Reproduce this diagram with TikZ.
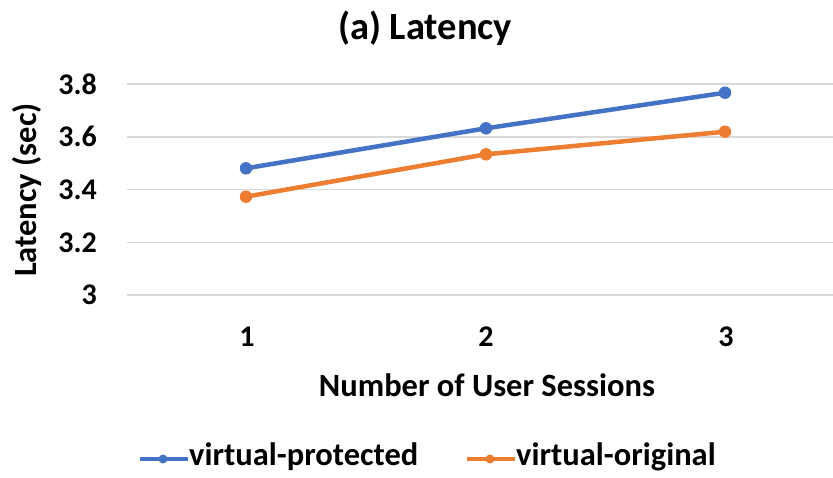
\documentclass[tikz,border=0pt]{standalone}
\usepackage{fontspec}
\setmainfont{Carlito}
\definecolor{serblue}{HTML}{4472C4}
\definecolor{serorange}{HTML}{ED7D31}
\definecolor{gridgray}{HTML}{D9D9D9}
\begin{document}
\begin{tikzpicture}[x=1pt,y=-1pt,
  gridline/.style={draw=gridgray,line width=1.5pt},
  ticklbl/.style={font=\fontsize{30}{34}\selectfont\bfseries,inner sep=0pt},
  axtitle/.style={font=\fontsize{32.5}{38}\selectfont\bfseries,inner sep=0pt},
  series/.style={line width=4.5pt,line join=round},
  dot/.style={circle,fill=#1,inner sep=0pt,minimum size=12.5pt},
  legdot/.style={circle,fill=#1,inner sep=0pt,minimum size=9pt}]
\useasboundingbox (0,0) rectangle (833,477);
% title
\node[font=\fontsize{38.5}{44}\selectfont\bfseries,inner sep=0pt] (title) at (425,28) {(a) Latency};
% gridlines and y ticks
\foreach \v/\yy in {3/295,3.2/242.3,3.4/189.5,3.6/136.8,3.8/84} {
  \draw[gridline] (127,\yy) -- (833,\yy);
  \node[ticklbl,anchor=east] (yt\v) at (97,\yy) {\v};
}
% x ticks
\node[ticklbl] (xt1) at (247,337) {1};
\node[ticklbl] (xt2) at (486,337) {2};
\node[ticklbl] (xt3) at (726,337) {3};
% axis titles
\node[axtitle] (xtitle) at (487,385) {Number of User Sessions};
\node[axtitle,rotate=90] (ytitle) at (27,190) {Latency (sec)};
% series
\coordinate (b1) at (246,168.3);
\coordinate (b2) at (486,128.3);
\coordinate (b3) at (725,92.7);
\coordinate (o1) at (246,196.7);
\coordinate (o2) at (486,154.3);
\coordinate (o3) at (725,131.7);
\draw[series,serblue] (b1) -- (b2) -- (b3);
\draw[series,serorange] (o1) -- (o2) -- (o3);
\foreach \p in {b1,b2,b3} \node[dot=serblue] at (\p) {};
\foreach \p in {o1,o2,o3} \node[dot=serorange] at (\p) {};
% legend
\coordinate (lb1) at (140,459);
\coordinate (lb2) at (188,459);
\coordinate (lo1) at (467,459);
\coordinate (lo2) at (515,459);
\draw[serblue,line width=4.5pt] (lb1) -- (lb2);
\node[legdot=serblue] (lbd) at (163,459) {};
\draw[serorange,line width=4.5pt] (lo1) -- (lo2);
\node[legdot=serorange] (lod) at (490,459) {};
\node[axtitle,anchor=west] (lbt) at (189,457) {virtual-protected};
\node[axtitle,anchor=west] (lot) at (516,457) {virtual-original};
\end{tikzpicture}
\end{document}
